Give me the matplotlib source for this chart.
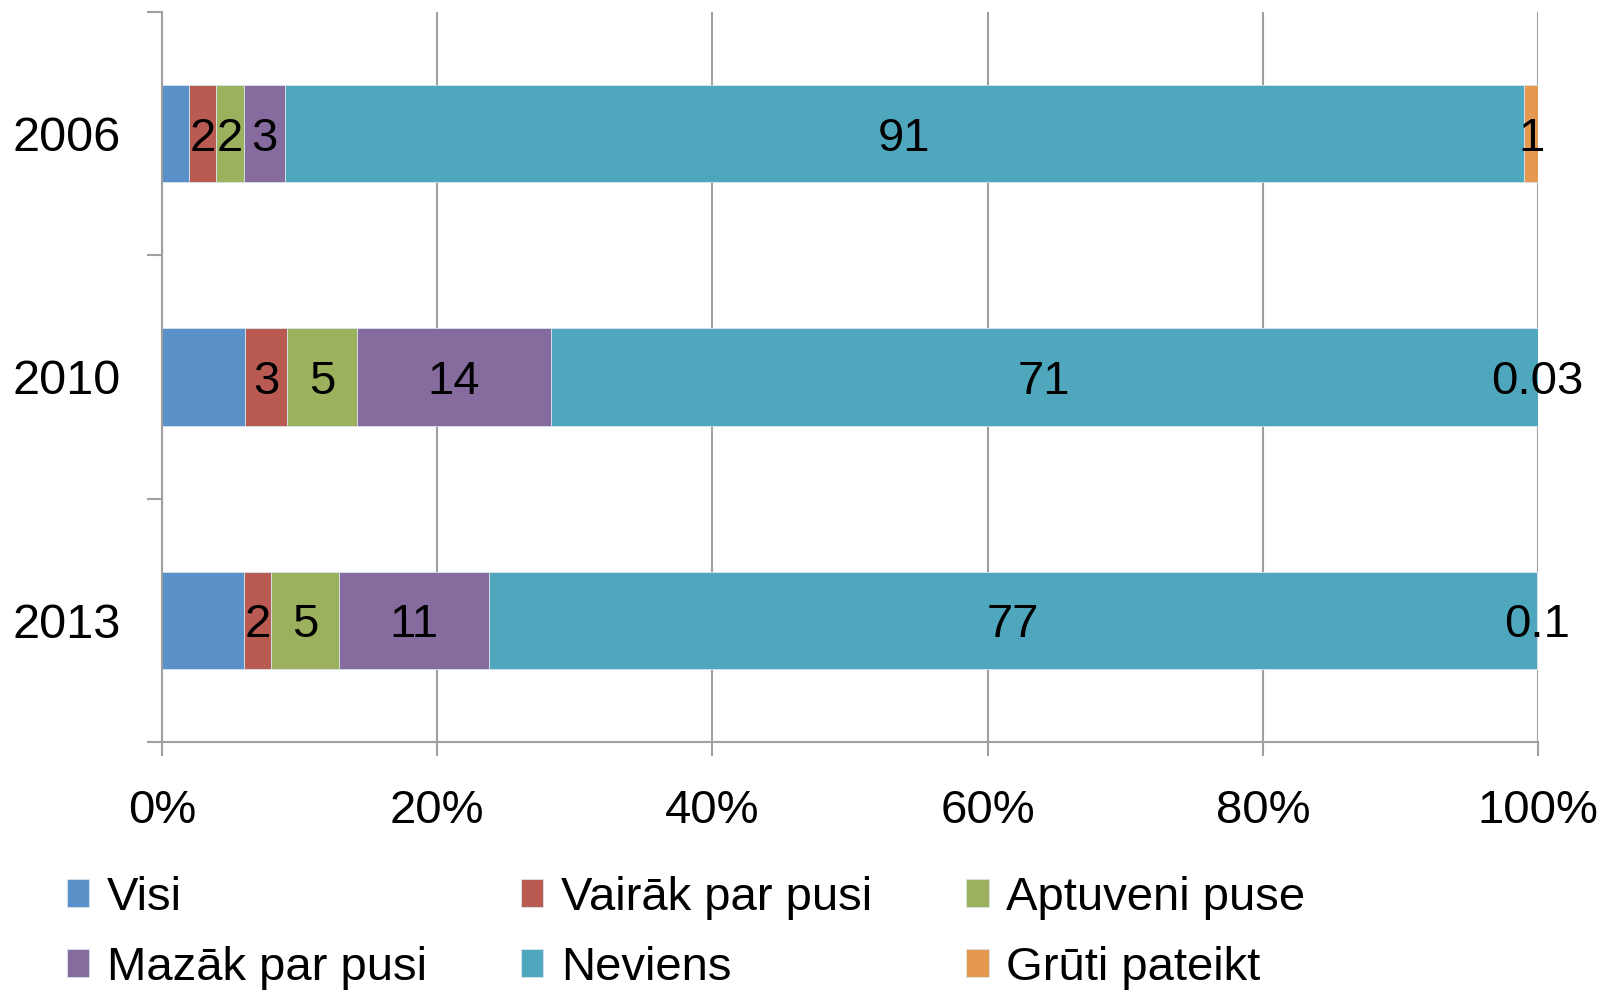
import matplotlib
matplotlib.use("Agg")
import matplotlib.pyplot as plt
import numpy as np

plt.rcParams['font.family'] = ['Liberation Sans', 'DejaVu Sans']

years = ["2006", "2010", "2013"]
series_names = ["Visi", "Vairāk par pusi", "Aptuveni puse", "Mazāk par pusi", "Neviens", "Grūti pateikt"]
visi = [2, 6, 6]
vairak = [2, 3, 2]
aptuveni = [2, 5, 5]
mazak = [3, 14, 11]
neviens = [91, 71, 77]
gruti = [1, 0.03, 0.1]
label_visi = ["", "", ""]
label_vairak = ["2", "3", "2"]
label_aptuveni = ["2", "5", "5"]
label_mazak = ["3", "14", "11"]
label_neviens = ["91", "71", "77"]
label_gruti = ["1", "0.03", "0.1"]
x_ticks = [0, 20, 40, 60, 80, 100]
x_labels = ["0%", "20%", "40%", "60%", "80%", "100%"]

colors = ['#5991C8', '#BA5B53', '#9BB15E', '#866C9E', '#4FA7BE', '#E59850']

data = np.array([visi, vairak, aptuveni, mazak, neviens, gruti], dtype=float)
totals = data.sum(axis=0)
pct = data / totals * 100
labels = [label_visi, label_vairak, label_aptuveni, label_mazak, label_neviens, label_gruti]

fig = plt.figure(figsize=(16.01, 9.90), dpi=100)
ax = fig.add_axes([162/1601, 1-742/990, (1538-162)/1601, (742-12)/990])

ypos = np.arange(len(years))
left = np.zeros(len(years))
for i, name in enumerate(series_names):
    bars = ax.barh(ypos, pct[i], left=left, height=0.4, color=colors[i],
                   edgecolor='#d8e4ec', linewidth=0.6, label=name, zorder=2)
    texts = ax.bar_label(bars, labels=labels[i], label_type='center', fontsize=34,
                         color='black', zorder=5)
    for t in texts:
        t.set_va('center_baseline')
    left += pct[i]

gray = '#a0a0a0'
ax.set_xlim(0, 100)
ax.set_ylim(2.5, -0.5)
ax.set_xticks(x_ticks)
ax.set_xticklabels(x_labels, fontsize=34)
ax.set_yticks(ypos)
ax.set_yticklabels(years, fontsize=35)
for t in ax.get_yticklabels():
    t.set_va('center_baseline')
ax.set_yticks([-0.5, 0.5, 1.5, 2.5], minor=True)
ax.tick_params(axis='y', which='major', length=0, pad=29.5)
ax.tick_params(axis='y', which='minor', length=10.5, width=1.5, color=gray, direction='out')
ax.tick_params(axis='x', which='major', length=10, width=1.5, color=gray, pad=23.5)
ax.xaxis.grid(True, color=gray, linewidth=1.5, zorder=0)
ax.set_axisbelow(True)
for s in ['top', 'right']:
    ax.spines[s].set_visible(False)
for s in ['left', 'bottom']:
    ax.spines[s].set_color(gray)
    ax.spines[s].set_linewidth(1.5)

handles, lbls = ax.get_legend_handles_labels()
order = [0, 3, 1, 4, 2, 5]
fig.legend([handles[k] for k in order], [lbls[k] for k in order], ncol=3,
           loc='upper left', bbox_to_anchor=(67/1601, 1-876/990), frameon=False,
           fontsize=34, borderpad=0, borderaxespad=0, handlelength=0.47,
           handleheight=0.53, handletextpad=0.37, columnspacing=2.0, labelspacing=0.54)

fig.savefig("out.png", dpi=100)
